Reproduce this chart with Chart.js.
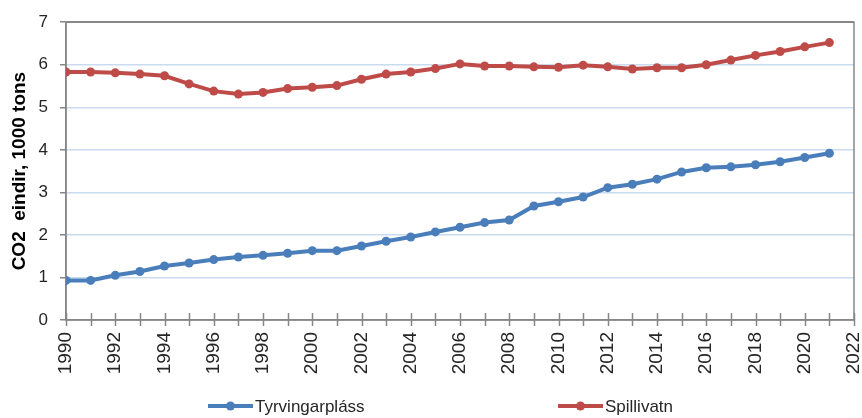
<!DOCTYPE html>
<html>
<head>
<meta charset="utf-8">
<script src="https://cdn.jsdelivr.net/npm/chart.js@4.4.1/dist/chart.umd.min.js"></script>
<style>
  html, body { margin: 0; padding: 0; background: #fff; }
  #wrap { width: 862px; height: 418px; }
</style>
</head>
<body>
<div id="wrap"><canvas id="chart"></canvas></div>
<script>
// values
const years = [1990, 1991, 1992, 1993, 1994, 1995, 1996, 1997, 1998, 1999,
  2000, 2001, 2002, 2003, 2004, 2005, 2006, 2007, 2008, 2009,
  2010, 2011, 2012, 2013, 2014, 2015, 2016, 2017, 2018, 2019,
  2020, 2021];
const tyrvingarplass = [0.93, 0.93, 1.05, 1.14, 1.27, 1.34, 1.42, 1.48, 1.52, 1.57,
  1.63, 1.63, 1.74, 1.85, 1.95, 2.07, 2.18, 2.29, 2.35, 2.68,
  2.78, 2.89, 3.11, 3.19, 3.31, 3.48, 3.58, 3.60, 3.65, 3.72,
  3.82, 3.92];
const spillivatn = [5.83, 5.83, 5.81, 5.78, 5.74, 5.55, 5.38, 5.31, 5.35, 5.44,
  5.47, 5.51, 5.66, 5.78, 5.83, 5.91, 6.02, 5.97, 5.97, 5.95,
  5.94, 5.99, 5.95, 5.90, 5.93, 5.93, 6.00, 6.11, 6.22, 6.31,
  6.42, 6.52];
const seriesNames = ['Tyrvingarpláss', 'Spillivatn'];
const yTicks = [0, 1, 2, 3, 4, 5, 6, 7];

var axisGrey = '#868686';
var gridBlue = '#c9dbef';
var textColor = '#262626';
var fontFam = "'Liberation Sans', Arial, sans-serif";

function toPoints(vals) {
  return years.map((y, i) => ({x: y, y: vals[i]}));
}

// box round the plot + tick marks crossing the x axis
const frameTicks = {
  id: 'frameTicks',
  beforeDatasetsDraw: chart => {
    let ctx = chart.ctx;
    let a = chart.chartArea;
    let xs = chart.scales.x;
    ctx.save();
    ctx.strokeStyle = axisGrey;
    ctx.lineWidth = 1.5;
    ctx.strokeRect(a.left, a.top, a.right - a.left, a.bottom - a.top);
    ctx.beginPath();
    xs.ticks.forEach(t => {
      let px = Math.round(xs.getPixelForValue(t.value)) + 0.5;
      ctx.moveTo(px, a.bottom - 7);
      ctx.lineTo(px, a.bottom + 6);
    });
    ctx.stroke();
    ctx.restore();
  }
};

// legend drawn by hand so the items can sit far apart
const wideLegend = {
  id: 'wideLegend',
  afterDraw: chart => {
    let ctx = chart.ctx;
    let starts = [208, 558];
    let ly = 406;
    ctx.save();
    ctx.font = '17px ' + fontFam;
    ctx.textBaseline = 'middle';
    chart.data.datasets.forEach((ds, i) => {
      let x0 = starts[i];
      ctx.strokeStyle = ds.borderColor;
      ctx.lineWidth = 4;
      ctx.beginPath();
      ctx.moveTo(x0, ly);
      ctx.lineTo(x0 + 45, ly);
      ctx.stroke();
      ctx.fillStyle = ds.borderColor;
      ctx.beginPath();
      ctx.arc(x0 + 22.5, ly, 4.5, 0, Math.PI * 2);
      ctx.fill();
      ctx.fillStyle = textColor;
      ctx.fillText(ds.label, x0 + 47, ly + 1);
    });
    ctx.restore();
  }
};

var chartConfig = {
  type: 'line',
  data: {
    datasets: [{
      label: seriesNames[0],
      data: toPoints(tyrvingarplass),
      borderColor: '#4a7ebb',
      backgroundColor: '#4a7ebb',
      pointBackgroundColor: '#4a7ebb',
      borderWidth: 4,
      pointRadius: 4.5,
      pointBorderWidth: 0,
      lineTension: 0
    }, {
      label: seriesNames[1],
      data: toPoints(spillivatn),
      borderColor: '#be4b48',
      backgroundColor: '#be4b48',
      pointBackgroundColor: '#be4b48',
      borderWidth: 4,
      pointRadius: 4.5,
      pointBorderWidth: 0,
      lineTension: 0
    }]
  },
  options: {
    responsive: true,
    maintainAspectRatio: false,
    animation: false,
    layout: {
      padding: {top: 20, right: 8, left: 0, bottom: 0}
    },
    scales: {
      x: {
        type: 'linear',
        min: 1990,
        max: 2022,
        grid: {display: false},
        border: {display: false},
        afterFit: s => {
          s.height = 98;
          s.paddingRight = 0;
          s.paddingLeft = 0;
        },
        ticks: {
          stepSize: 1,
          autoSkip: false,
          maxRotation: 90,
          minRotation: 90,
          padding: 4,
          color: textColor,
          font: {family: fontFam, size: 19},
          callback: v => (v % 2 === 0 ? String(v) : '')
        }
      },
      y: {
        min: 0,
        max: 7,
        afterFit: s => { s.width = 66; },
        afterBuildTicks: s => { s.ticks = yTicks.map(v => ({value: v})); },
        border: {display: true, color: axisGrey, width: 1.5},
        grid: {
          color: c => (c.tick.value === 0 || c.tick.value === 7 ? axisGrey : gridBlue),
          lineWidth: 1.5,
          tickColor: axisGrey,
          tickLength: 6
        },
        ticks: {
          padding: 12,
          color: textColor,
          font: {family: fontFam, size: 17}
        },
        title: {
          display: true,
          text: 'CO2  eindir, 1000 tons',
          color: '#000',
          font: {family: fontFam, size: 19, weight: 'bold'},
          padding: {top: 8, bottom: 0}
        }
      }
    },
    plugins: {
      legend: {display: false},
      tooltip: {enabled: false}
    }
  },
  plugins: [frameTicks, wideLegend]
};

var myChart = new Chart(document.getElementById('chart'), chartConfig);
</script>
</body>
</html>
